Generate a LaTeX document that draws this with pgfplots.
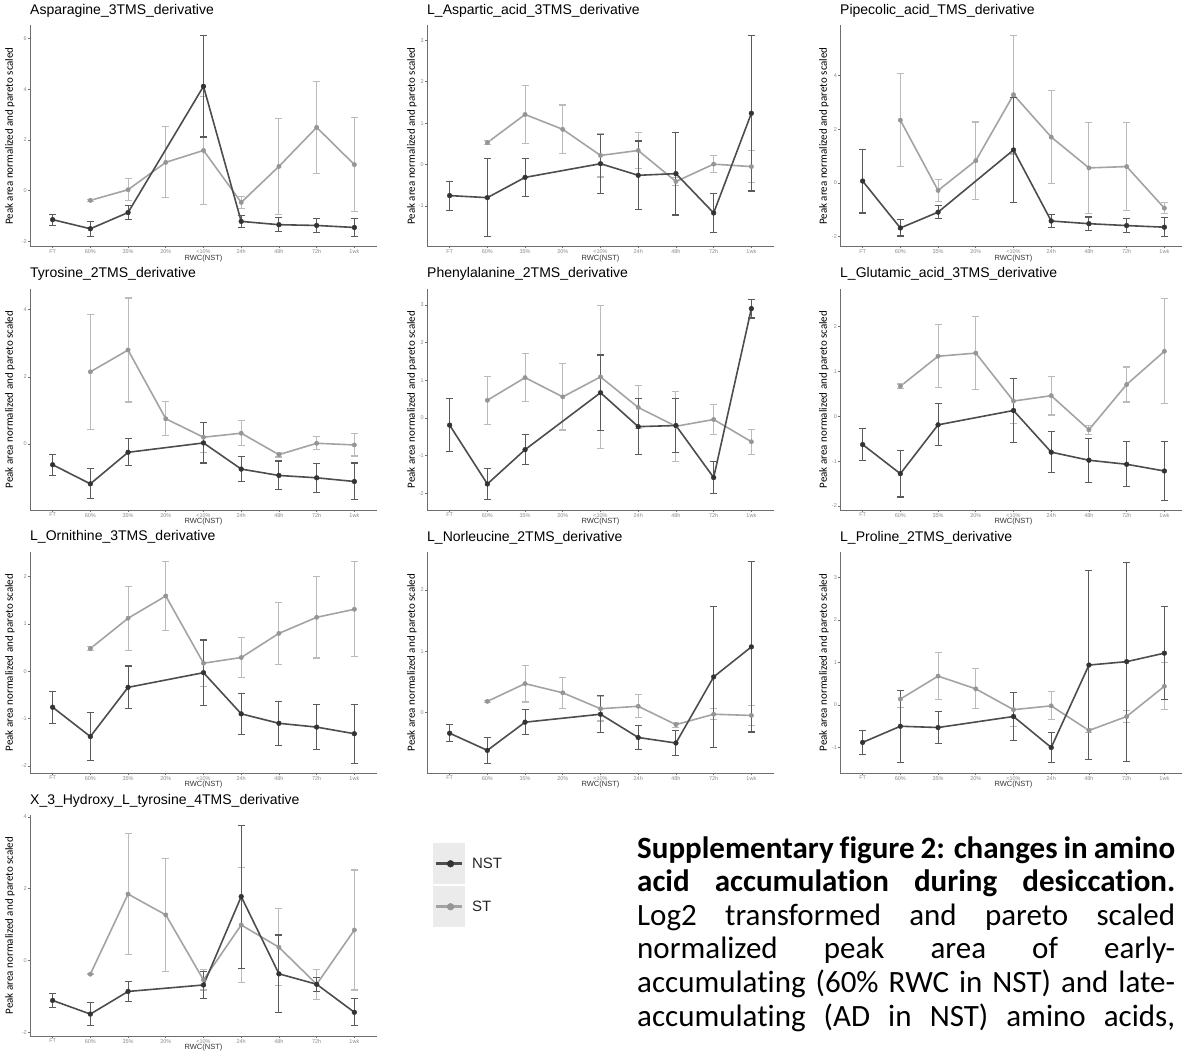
\documentclass[border=0pt]{standalone}
\usepackage{fontspec}
\setmainfont{Liberation Sans}
\newfontfamily\carlito{Carlito}[Ligatures=NoCommon]
\usepackage{pgfplots}
\pgfplotsset{compat=1.18}
\definecolor{nstl}{HTML}{4D4D4D}
\definecolor{nstm}{HTML}{333333}
\definecolor{nste}{HTML}{5A5A5A}
\definecolor{stl}{HTML}{A3A3A3}
\definecolor{stm}{HTML}{959595}
\definecolor{ste}{HTML}{BBBBBB}
\definecolor{axc}{HTML}{6E6E6E}
\definecolor{tkc}{HTML}{8A8A8A}
\definecolor{legbg}{HTML}{EBEBEB}
\pgfplotsset{
 panel/.style={
  scale only axis, width=347pt, height=221pt,
  xmin=-0.6, xmax=8.6,
  axis x line=bottom, axis y line=left,
  axis line style={-, draw=axc, line width=0.9pt},
  xtick={0,...,8},
  xticklabels={FT,60\%,35\%,20\%,<10\%,24h,48h,72h,1wk},
  tick align=outside, major tick length=2pt,
  tick style={draw=axc, line width=0.6pt},
  every tick label/.append style={font=\fontsize{5.5}{6}\selectfont, text=tkc, inner sep=1pt},
  /pgf/number format/assume math mode=true,
  xlabel={RWC(NST)},
  xlabel style={font=\fontsize{7.5}{8}\selectfont, text=black!80, at={(rel axis cs:0.5,0)}, anchor=center, yshift=-12pt},
  ylabel={Peak area normalized and pareto scaled},
  ylabel style={font=\carlito\fontsize{11}{12}\selectfont, anchor=center},
  title style={font=\fontsize{14}{15}\selectfont, at={(rel axis cs:0,1)}, anchor=base west, yshift=5pt, inner sep=0pt},
  clip=false,
 },
 c1/.style={ylabel style={at={(rel axis cs:-0.0576,0.5)}}},
 c2/.style={ylabel style={at={(rel axis cs:-0.0432,0.5)}}},
 c3/.style={ylabel style={at={(rel axis cs:-0.046,0.5)}}},
 nst/.style={color=nstl, line width=1.6pt, mark=*, mark size=2.4pt,
   mark options={fill=nstm, draw=nstm, line width=0.4pt, solid},
   /pgfplots/error bars/y dir=both, /pgfplots/error bars/y explicit,
   /pgfplots/error bars/error bar style={line width=1.1pt, color=nste},
   /pgfplots/error bars/error mark options={rotate=90, line width=1.1pt, mark size=3.5pt, color=nste}},
 st/.style={color=stl, line width=1.6pt, mark=*, mark size=2.2pt,
   mark options={fill=stm, draw=stm, line width=0.4pt, solid},
   /pgfplots/error bars/y dir=both, /pgfplots/error bars/y explicit,
   /pgfplots/error bars/error bar style={line width=1.1pt, color=ste},
   /pgfplots/error bars/error mark options={rotate=90, line width=1.1pt, mark size=3.5pt, color=ste}},
}
\begin{document}
\begin{tikzpicture}
\useasboundingbox (0,0) rectangle (1182pt,1050pt);
\clip (0,0) rectangle (1182pt,1050pt);
% ---------- Row 1
\begin{axis}[panel, c1, at={(30pt,803.5pt)}, ymin=-2.2, ymax=6.52, ytick={-2,0,2,4,6},
  title={Asparagine\_3TMS\_derivative}]
\addplot[st] coordinates {(1,-0.38)+-(0,0.03) (2,0.04)+-(0,0.44) (3,1.12)+-(0,1.40) (4,1.59)+-(0,2.14) (5,-0.46)+-(0,0.24) (6,0.96)+-(0,1.90) (7,2.50)+-(0,1.82) (8,1.03)+-(0,1.86)};
\addplot[nst] coordinates {(0,-1.14)+-(0,0.22) (1,-1.50)+-(0,0.30) (2,-0.86)+-(0,0.28) (4,4.12)+-(0,2.00) (5,-1.21)+-(0,0.25) (6,-1.34)+-(0,0.27) (7,-1.37)+-(0,0.27) (8,-1.45)+-(0,0.35)};
\end{axis}
\begin{axis}[panel, c2, at={(427pt,803.5pt)}, ymin=-1.98, ymax=3.36, ytick={-1,0,1,2,3},
  title={L\_Aspartic\_acid\_3TMS\_derivative}]
\addplot[st] coordinates {(1,0.53)+-(0,0.05) (2,1.21)+-(0,0.70) (3,0.85)+-(0,0.59) (4,0.22)+-(0,0.52) (5,0.34)+-(0,0.44) (6,-0.41)+-(0,0.10) (7,0.01)+-(0,0.21) (8,-0.05)+-(0,0.39)};
\addplot[nst] coordinates {(0,-0.75)+-(0,0.35) (1,-0.80)+-(0,0.94) (2,-0.31)+-(0,0.46) (4,0.02)+-(0,0.71) (5,-0.26)+-(0,0.83) (6,-0.22)+-(0,1.00) (7,-1.17)+-(0,0.48) (8,1.24)+-(0,1.88)};
\end{axis}
\begin{axis}[panel, c3, at={(840pt,803.5pt)}, ymin=-2.37, ymax=5.87, ytick={-2,0,2,4},
  title={Pipecolic\_acid\_TMS\_derivative}]
\addplot[st] coordinates {(1,2.34)+-(0,1.74) (2,-0.28)+-(0,0.40) (3,0.83)+-(0,1.44) (4,3.29)+-(0,2.21) (5,1.71)+-(0,1.73) (6,0.56)+-(0,1.69) (7,0.61)+-(0,1.63) (8,-0.94)+-(0,0.20)};
\addplot[nst] coordinates {(0,0.07)+-(0,1.19) (1,-1.68)+-(0,0.30) (2,-1.09)+-(0,0.25) (4,1.23)+-(0,1.95) (5,-1.42)+-(0,0.25) (6,-1.52)+-(0,0.25) (7,-1.59)+-(0,0.27) (8,-1.65)+-(0,0.35)};
\end{axis}
% ---------- Row 2
\begin{axis}[panel, c1, at={(30pt,540pt)}, ymin=-1.97, ymax=4.62, ytick={0,2,4},
  title={Tyrosine\_2TMS\_derivative}]
\addplot[st] coordinates {(1,2.15)+-(0,1.71) (2,2.80)+-(0,1.55) (3,0.75)+-(0,0.51) (4,0.20)+-(0,0.45) (5,0.32)+-(0,0.37) (6,-0.32)+-(0,0.07) (7,0.02)+-(0,0.19) (8,-0.03)+-(0,0.33)};
\addplot[nst] coordinates {(0,-0.62)+-(0,0.31) (1,-1.19)+-(0,0.45) (2,-0.25)+-(0,0.40) (4,0.03)+-(0,0.60) (5,-0.75)+-(0,0.38) (6,-0.94)+-(0,0.43) (7,-1.01)+-(0,0.43) (8,-1.12)+-(0,0.55)};
\end{axis}
\begin{axis}[panel, c2, at={(427pt,540pt)}, ymin=-2.44, ymax=3.42, ytick={-2,-1,0,1,2,3},
  title={Phenylalanine\_2TMS\_derivative}]
\addplot[st] coordinates {(1,0.47)+-(0,0.64) (2,1.07)+-(0,0.64) (3,0.56)+-(0,0.88) (4,1.09)+-(0,1.90) (5,0.28)+-(0,0.57) (6,-0.22)+-(0,0.93) (7,-0.04)+-(0,0.39) (8,-0.63)+-(0,0.33)};
\addplot[nst] coordinates {(0,-0.19)+-(0,0.71) (1,-1.75)+-(0,0.42) (2,-0.84)+-(0,0.39) (4,0.67)+-(0,1.00) (5,-0.23)+-(0,0.75) (6,-0.20)+-(0,0.72) (7,-1.58)+-(0,0.42) (8,2.90)+-(0,0.25)};
\end{axis}
\begin{axis}[panel, c3, at={(840pt,540pt)}, ymin=-2.09, ymax=2.84, ytick={-2,-1,0,1,2},
  title={L\_Glutamic\_acid\_3TMS\_derivative}]
\addplot[st] coordinates {(1,0.67)+-(0,0.05) (2,1.34)+-(0,0.70) (3,1.41)+-(0,0.82) (4,0.34)+-(0,0.50) (5,0.46)+-(0,0.43) (6,-0.30)+-(0,0.10) (7,0.71)+-(0,0.39) (8,1.45)+-(0,1.17)};
\addplot[nst] coordinates {(0,-0.63)+-(0,0.35) (1,-1.28)+-(0,0.52) (2,-0.19)+-(0,0.47) (4,0.13)+-(0,0.71) (5,-0.80)+-(0,0.46) (6,-0.98)+-(0,0.49) (7,-1.07)+-(0,0.50) (8,-1.22)+-(0,0.65)};
\end{axis}
% ---------- Row 3
\begin{axis}[panel, c1, at={(30pt,277pt)}, ymin=-2.15, ymax=2.52, ytick={-2,-1,0,1,2},
  title={L\_Ornithine\_3TMS\_derivative}]
\addplot[st] coordinates {(1,0.48)+-(0,0.05) (2,1.12)+-(0,0.68) (3,1.59)+-(0,0.72) (4,0.17)+-(0,0.50) (5,0.29)+-(0,0.42) (6,0.80)+-(0,0.66) (7,1.14)+-(0,0.86) (8,1.31)+-(0,1.00)};
\addplot[nst] coordinates {(0,-0.76)+-(0,0.34) (1,-1.38)+-(0,0.50) (2,-0.34)+-(0,0.45) (4,-0.03)+-(0,0.69) (5,-0.90)+-(0,0.43) (6,-1.10)+-(0,0.47) (7,-1.18)+-(0,0.48) (8,-1.32)+-(0,0.62)};
\end{axis}
\begin{axis}[panel, c2, at={(427pt,277pt)}, ymin=-0.99, ymax=2.62, ytick={0,1,2},
  title={L\_Norleucine\_2TMS\_derivative}]
\addplot[st] coordinates {(1,0.18)+-(0,0.02) (2,0.47)+-(0,0.30) (3,0.32)+-(0,0.25) (4,0.06)+-(0,0.20) (5,0.10)+-(0,0.19) (6,-0.20)+-(0,0.04) (7,-0.03)+-(0,0.09) (8,-0.05)+-(0,0.16)};
\addplot[nst] coordinates {(0,-0.34)+-(0,0.14) (1,-0.62)+-(0,0.21) (2,-0.16)+-(0,0.20) (4,-0.03)+-(0,0.30) (5,-0.41)+-(0,0.19) (6,-0.50)+-(0,0.20) (7,0.58)+-(0,1.15) (8,1.07)+-(0,1.39)};
\end{axis}
\begin{axis}[panel, c3, at={(840pt,277pt)}, ymin=-1.6, ymax=3.6, ytick={-1,0,1,2,3},
  title={L\_Proline\_2TMS\_derivative}]
\addplot[st] coordinates {(1,0.14)+-(0,0.20) (2,0.68)+-(0,0.55) (3,0.38)+-(0,0.47) (4,-0.11)+-(0,0.40) (5,-0.02)+-(0,0.33) (6,-0.60)+-(0,0.04) (7,-0.27)+-(0,0.15) (8,0.44)+-(0,0.55)};
\addplot[nst] coordinates {(0,-0.88)+-(0,0.28) (1,-0.50)+-(0,0.85) (2,-0.53)+-(0,0.37) (4,-0.27)+-(0,0.56) (5,-1.00)+-(0,0.36) (6,0.94)+-(0,2.22) (7,1.02)+-(0,2.34) (8,1.22)+-(0,1.10)};
\end{axis}
% ---------- Row 4
\begin{axis}[panel, c1, at={(30pt,14pt)}, ymin=-2.1, ymax=4.05, ytick={-2,0,2,4},
  title={X\_3\_Hydroxy\_L\_tyrosine\_4TMS\_derivative},
  legend image code/.code={
    \fill[legbg] (-1pt,-19pt) rectangle (28pt,19pt);
    \draw[#1, mark=none] (0pt,0pt) -- (26pt,0pt);
    \draw[#1, only marks] plot coordinates {(15pt,0pt)};
    \path (35pt,0pt);
  },
  legend style={at={(rel axis cs:1.161,0.873)}, anchor=north west, draw=none, fill=none,
    font=\fontsize{15}{16}\selectfont, text=black!85, row sep=2pt, inner sep=0pt,
    nodes={inner sep=0pt}},
  legend cell align=left]
\addlegendimage{color=nstl, line width=3pt, mark=*, mark size=3.4pt, mark options={fill=nstm, draw=nstm, line width=0.4pt}}
\addlegendentry{NST}
\addlegendimage{color=stl, line width=3pt, mark=*, mark size=3.4pt, mark options={fill=stm, draw=stm, line width=0.4pt}}
\addlegendentry{ST}
\addplot[st, forget plot] coordinates {(1,-0.38)+-(0,0.02) (2,1.85)+-(0,1.69) (3,1.27)+-(0,1.57) (4,-0.54)+-(0,0.28) (5,0.99)+-(0,1.60) (6,0.37)+-(0,1.07) (7,-0.66)+-(0,0.42) (8,0.85)+-(0,1.67)};
\addplot[nst, forget plot] coordinates {(0,-1.11)+-(0,0.20) (1,-1.49)+-(0,0.31) (2,-0.86)+-(0,0.28) (4,-0.68)+-(0,0.38) (5,1.78)+-(0,1.99) (6,-0.37)+-(0,1.08) (7,-0.66)+-(0,0.20) (8,-1.44)+-(0,0.38)};
\end{axis}
% ---------- Caption
\node[anchor=base west, inner sep=0pt, text width=538pt, align=justify,
  font=\carlito\fontsize{31}{33.6}\selectfont] at (637pt,192pt)
 {\textbf{Supplementary figure 2: changes in amino\linebreak acid accumulation during desiccation.}\linebreak
  Log2 transformed and pareto scaled\linebreak normalized peak area of early-\linebreak
  accumulating (60\% RWC in NST) and late-\linebreak accumulating (AD in NST) amino acids,\parfillskip=0pt\par};
\end{tikzpicture}
\end{document}
